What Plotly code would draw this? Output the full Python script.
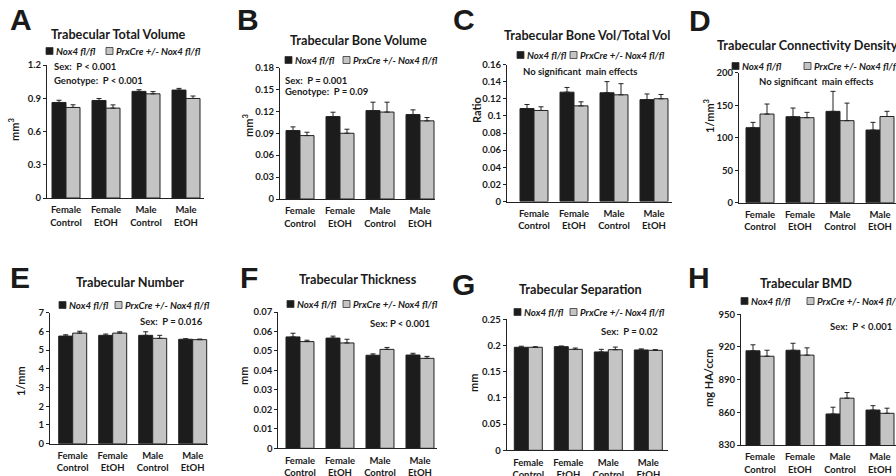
import plotly.graph_objects as go

W, H = 896, 476

categories = ["Female<br>Control", "Female<br>EtOH", "Male<br>Control", "Male<br>EtOH"]
series_names = ["Nox4 fl/fl", "PrxCre +/- Nox4 fl/fl"]

# ---------------- data ----------------
a_nox4 = [0.862, 0.880, 0.962, 0.974]
a_nox4_err = [0.020, 0.018, 0.015, 0.015]
a_prx = [0.817, 0.811, 0.940, 0.898]
a_prx_err = [0.024, 0.029, 0.020, 0.022]
a_ticks = [0, 0.3, 0.6, 0.9, 1.2]
a_ticklabels = ["0", "0.3", "0.6", "0.9", "1.2"]

b_nox4 = [0.0937, 0.1128, 0.1210, 0.1156]
b_nox4_err = [0.0050, 0.0060, 0.0115, 0.0064]
b_prx = [0.0868, 0.0900, 0.1190, 0.1070]
b_prx_err = [0.0046, 0.0055, 0.0135, 0.0045]
b_ticks = [0, 0.03, 0.06, 0.09, 0.12, 0.15, 0.18]
b_ticklabels = ["0", "0.03", "0.06", "0.09", "0.12", "0.15", "0.18"]

c_nox4 = [0.1086, 0.1277, 0.1270, 0.1190]
c_nox4_err = [0.0047, 0.0055, 0.0130, 0.0066]
c_prx = [0.1063, 0.1117, 0.1246, 0.1200]
c_prx_err = [0.0043, 0.0047, 0.0130, 0.0050]
c_ticks = [0, 0.02, 0.04, 0.06, 0.08, 0.10, 0.12, 0.14, 0.16]
c_ticklabels = ["0", "0.02", "0.04", "0.06", "0.08", "0.1", "0.12", "0.14", "0.16"]

d_nox4 = [115.4, 132.3, 140.5, 111.8]
d_nox4_err = [8.2, 13.3, 30.8, 11.8]
d_prx = [136.4, 130.8, 126.2, 132.6]
d_prx_err = [15.4, 8.2, 27.0, 8.0]
d_ticks = [0, 50, 100, 150, 200]
d_ticklabels = ["0", "50", "100", "150", "200"]

e_nox4 = [5.75, 5.79, 5.79, 5.58]
e_nox4_err = [0.07, 0.07, 0.19, 0.03]
e_prx = [5.91, 5.91, 5.63, 5.56]
e_prx_err = [0.10, 0.07, 0.16, 0.03]
e_ticks = [0, 1, 2, 3, 4, 5, 6, 7]
e_ticklabels = ["0", "1", "2", "3", "4", "5", "6", "7"]

f_nox4 = [0.0572, 0.0566, 0.0478, 0.0479]
f_nox4_err = [0.0019, 0.0010, 0.0007, 0.0009]
f_prx = [0.0548, 0.0541, 0.0508, 0.0462]
f_prx_err = [0.0007, 0.0019, 0.0010, 0.0010]
f_ticks = [0, 0.01, 0.02, 0.03, 0.04, 0.05, 0.06, 0.07]
f_ticklabels = ["0", "0.01", "0.02", "0.03", "0.04", "0.05", "0.06", "0.07"]

g_nox4 = [0.1966, 0.1978, 0.1877, 0.1915]
g_nox4_err = [0.0020, 0.0013, 0.0050, 0.0020]
g_prx = [0.1966, 0.1927, 0.1920, 0.1908]
g_prx_err = [0.0010, 0.0025, 0.0050, 0.0013]
g_ticks = [0, 0.05, 0.1, 0.15, 0.2, 0.25]
g_ticklabels = ["0", "0.05", "0.1", "0.15", "0.2", "0.25"]

h_nox4 = [916.5, 917.0, 858.5, 862.1]
h_nox4_err = [5.5, 6.4, 6.2, 4.0]
h_prx = [911.5, 912.5, 873.0, 859.1]
h_prx_err = [5.5, 6.7, 5.2, 4.7]
h_ticks = [830, 860, 890, 920, 950]
h_ticklabels = ["830", "860", "890", "920", "950"]

# ---------------- styling / layout ----------------
NOX_COLOR = "#1c1c1c"
PRX_COLOR = "#c4c4c4"
TXT = "#1a1a1a"
FONT = "Lato"
LETTER_FONT = "Liberation Sans"
NB = "\u00a0"

panels = [
    dict(letter="A", title="Trabecular Total Volume", ytitle="mm<sup>3</sup>",
         nox=a_nox4, noxe=a_nox4_err, prx=a_prx, prxe=a_prx_err,
         ticks=a_ticks, tlabels=a_ticklabels,
         left=47, c0=66, right=204, top=65, bottom=198,
         letter_xy=(8, 20), title_xy=(118, 34), ytitle_xy=(14, 130),
         leg=(46, 106, 51),
         notes=[(f"Sex:{NB} P < 0.001", 52, 67), (f"Genotype:{NB} P < 0.001", 52, 80)]),
    dict(letter="B", title="Trabecular Bone Volume", ytitle="mm<sup>3</sup>",
         nox=b_nox4, noxe=b_nox4_err, prx=b_prx, prxe=b_prx_err,
         ticks=b_ticks, tlabels=b_ticklabels,
         left=280, c0=300, right=435, top=67.5, bottom=199,
         letter_xy=(235, 20), title_xy=(358, 40), ytitle_xy=(248, 126),
         leg=(285, 343, 60),
         notes=[(f"Sex:{NB} P = 0.001", 283, 80), (f"Genotype:{NB} P = 0.09", 283, 91)]),
    dict(letter="C", title="Trabecular Bone Vol/Total Vol", ytitle="Ratio",
         nox=c_nox4, noxe=c_nox4_err, prx=c_prx, prxe=c_prx_err,
         ticks=c_ticks, tlabels=c_ticklabels,
         left=507, c0=534, right=672, top=64.5, bottom=201.5,
         letter_xy=(451, 20), title_xy=(587, 35), ytitle_xy=(476, 110),
         leg=(517, 570, 55),
         notes=[(f"No significant{NB} main effects", 521, 71)]),
    dict(letter="D", title="Trabecular Connectivity Density", ytitle="1/mm<sup>3</sup>",
         nox=d_nox4, noxe=d_nox4_err, prx=d_prx, prxe=d_prx_err,
         ticks=d_ticks, tlabels=d_ticklabels,
         left=739, c0=760, right=896, top=72.7, bottom=202.7,
         letter_xy=(687, 21), title_xy=(715, 45, "left"), ytitle_xy=(708, 116),
         leg=(732, 804, 66),
         notes=[(f"No significant{NB} main effects", 757, 81)]),
    dict(letter="E", title="Trabecular Number", ytitle="1/mm",
         nox=e_nox4, noxe=e_nox4_err, prx=e_prx, prxe=e_prx_err,
         ticks=e_ticks, tlabels=e_ticklabels,
         left=50, c0=72.7, right=208, top=312.7, bottom=443.7,
         letter_xy=(8, 277), title_xy=(130, 282), ytitle_xy=(20, 381),
         leg=(59, 115, 305),
         notes=[(f"Sex:{NB} P = 0.016", 138, 321)]),
    dict(letter="F", title="Trabecular Thickness", ytitle="mm",
         nox=f_nox4, noxe=f_nox4_err, prx=f_prx, prxe=f_prx_err,
         ticks=f_ticks, tlabels=f_ticklabels,
         left=278.3, c0=300, right=437, top=312, bottom=448.3,
         letter_xy=(238, 277), title_xy=(358, 279), ytitle_xy=(243, 376),
         leg=(287, 343, 304),
         notes=[("Sex: P < 0.001", 368, 323)]),
    dict(letter="G", title="Trabecular Separation", ytitle="mm",
         nox=g_nox4, noxe=g_nox4_err, prx=g_prx, prxe=g_prx_err,
         ticks=g_ticks, tlabels=g_ticklabels,
         left=506.7, c0=528.3, right=668, top=319.3, bottom=450.3,
         letter_xy=(450, 284), title_xy=(580, 289), ytitle_xy=(473, 383),
         leg=(514, 570, 312),
         notes=[(f"Sex:{NB} P = 0.02", 599, 331)]),
    dict(letter="H", title="Trabecular BMD", ytitle="mg HA/ccm",
         nox=h_nox4, noxe=h_nox4_err, prx=h_prx, prxe=h_prx_err,
         ticks=h_ticks, tlabels=h_ticklabels,
         left=741, c0=760, right=896, top=314.3, bottom=445,
         letter_xy=(686, 277), title_xy=(806, 283), ytitle_xy=(708, 378),
         leg=(741, 807, 301),
         notes=[(f"Sex:{NB} P < 0.001", 828, 326)]),
]

SPACING = 40.0

def px(x):
    return x / W

def py(y):
    return 1 - y / H

fig = go.Figure()
annotations = []
shapes = []
layout = {}

for i, p in enumerate(panels, start=1):
    xa = "x" if i == 1 else f"x{i}"
    ya = "y" if i == 1 else f"y{i}"
    for name, vals, errs, color in [(series_names[0], p["nox"], p["noxe"], NOX_COLOR),
                                    (series_names[1], p["prx"], p["prxe"], PRX_COLOR)]:
        fig.add_trace(go.Bar(
            x=categories, y=vals, name=name, xaxis=xa, yaxis=ya, showlegend=False,
            marker=dict(color=color, line=dict(color="#222222", width=1)),
            error_y=dict(type="data", array=errs, arrayminus=[0] * len(errs), symmetric=False,
                         color="#222222", thickness=1, width=2.5),
        ))
    lo = (p["left"] - p["c0"]) / SPACING
    hi = (p["right"] - p["c0"]) / SPACING
    xkey = "xaxis" if i == 1 else f"xaxis{i}"
    ykey = "yaxis" if i == 1 else f"yaxis{i}"
    layout[xkey] = dict(
        domain=[px(p["left"]), min(1.0, px(p["right"]))], anchor=ya, type="category",
        range=[lo, hi], showline=True, linecolor="#222222", linewidth=1, ticks="",
        showgrid=False, zeroline=False, fixedrange=True, automargin=False,
        ticklabelstandoff=3,
        tickfont=dict(family=FONT, size=9.5, color=TXT, weight="bold"),
    )
    layout[ykey] = dict(
        domain=[py(p["bottom"]), py(p["top"])], anchor=xa,
        range=[p["ticks"][0], p["ticks"][-1]], tickvals=p["ticks"], ticktext=p["tlabels"],
        showline=True, linecolor="#222222", linewidth=1, ticks="outside", ticklen=3,
        tickcolor="#222222", showgrid=False, zeroline=False, fixedrange=True, automargin=False,
        tickfont=dict(family=FONT, size=9.5, color=TXT, weight="bold"),
    )
    # panel letter
    lx, ly = p["letter_xy"]
    annotations.append(dict(text=f"<b>{p['letter']}</b>", x=px(lx), y=py(ly), xref="paper", yref="paper",
                            xanchor="left", yanchor="middle", showarrow=False,
                            font=dict(family=LETTER_FONT, size=30, color=TXT)))
    # title
    t = p["title_xy"]
    anchor = t[2] if len(t) > 2 else "center"
    annotations.append(dict(text=f"<b>{p['title']}</b>", x=px(t[0]), y=py(t[1]), xref="paper", yref="paper",
                            xanchor=anchor, yanchor="middle", showarrow=False,
                            font=dict(family=FONT, size=12.7, color=TXT)))
    # y title
    yx, yy = p["ytitle_xy"]
    annotations.append(dict(text=f"<b>{p['ytitle']}</b>", x=px(yx), y=py(yy), xref="paper", yref="paper",
                            xanchor="center", yanchor="middle", showarrow=False, textangle=-90,
                            font=dict(family=FONT, size=11, color=TXT)))
    # legend
    s1, s2, ly2 = p["leg"]
    for sx, name, color in [(s1, series_names[0], NOX_COLOR), (s2, series_names[1], PRX_COLOR)]:
        shapes.append(dict(type="rect", xref="paper", yref="paper",
                           x0=px(sx), x1=px(sx + 7), y0=py(ly2 + 3.5), y1=py(ly2 - 3.5),
                           fillcolor=color, line=dict(color="#333333", width=0.8)))
        annotations.append(dict(text=f"<b><i>{name}</i></b>", x=px(sx + 7.5), y=py(ly2), xref="paper", yref="paper",
                                xanchor="left", yanchor="middle", showarrow=False,
                                font=dict(family=FONT, size=9.7, color=TXT)))
    # stats notes
    for text, nx, ny in p["notes"]:
        annotations.append(dict(text=f"<b>{text}</b>", x=px(nx), y=py(ny), xref="paper", yref="paper",
                                xanchor="left", yanchor="middle", showarrow=False,
                                font=dict(family=FONT, size=9.5, color=TXT)))

fig.update_layout(
    template="none",
    width=W, height=H, margin=dict(l=0, r=0, t=0, b=0, autoexpand=False),
    paper_bgcolor="white", plot_bgcolor="white",
    barmode="group", bargap=0.3, bargroupgap=0.0,
    showlegend=False, annotations=annotations, shapes=shapes,
    font=dict(family=FONT, color=TXT),
    **layout,
)

fig.write_html("out.html", config={"displayModeBar": False},
               post_script="document.body.style.margin='0';document.body.style.overflow='hidden';")
